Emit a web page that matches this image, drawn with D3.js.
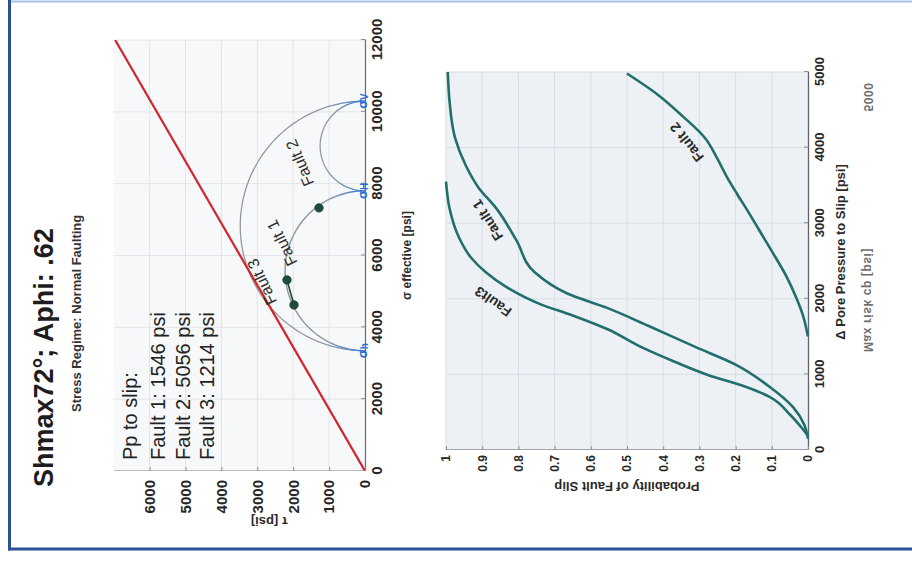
<!DOCTYPE html>
<html>
<head>
<meta charset="utf-8">
<script src="https://cdn.jsdelivr.net/npm/d3@7"></script>
<style>
  body { margin: 0; background: #ffffff; }
  svg { display: block; }
  text { font-family: "Liberation Sans", Arial, sans-serif; }
</style>
</head>
<body>
<svg id="chart" width="912" height="562"></svg>
<script>
// ---------------- DATA ----------------
const titleText = "Shmax72°; Aphi: .62";
const subtitleText = "Stress Regime: Normal Faulting";

// Mohr diagram
const sigmaTicks = [0, 2000, 4000, 6000, 8000, 10000, 12000];
const tauTicks = [0, 1000, 2000, 3000, 4000, 5000, 6000];
const principalStress = [3350, 7800, 10300];          // sigma_h, sigma_H, sigma_V (effective, psi)
const principalNames = ["h", "H", "V"];
const frictionCoef = 0.58;
const faultNames = ["Fault 1", "Fault 2", "Fault 3"];
const faultSigma = [5320, 7326, 4624];
const faultTau = [2173, 1281, 1978];
const faultLabelSigma = [6351, 8579, 5265];
const faultLabelTau = [2312, 1811, 2869];
const ppToSlip = [1546, 5056, 1214];

// Probability chart
const dpTicks = [0, 1000, 2000, 3000, 4000, 5000];
const probTicks = [0, 0.1, 0.2, 0.3, 0.4, 0.5, 0.6, 0.7, 0.8, 0.9, 1];
const fault1DP = [150, 330, 560, 850, 1130, 1360, 1640, 1880, 2070, 2350, 2770, 3190, 3470, 3760, 4130, 4600, 5000];
const fault1P  = [0, 0.01, 0.04, 0.11, 0.2, 0.31, 0.44, 0.555, 0.665, 0.755, 0.805, 0.86, 0.91, 0.945, 0.975, 0.99, 0.995];
const fault2DP = [1500, 1780, 2020, 2300, 2630, 2910, 3150, 3380, 3620, 3850, 4130, 4410, 4700, 4980];
const fault2P  = [0, 0.014, 0.033, 0.06, 0.1, 0.135, 0.165, 0.195, 0.225, 0.25, 0.285, 0.345, 0.415, 0.5];
const fault3DP = [190, 280, 470, 700, 850, 990, 1170, 1360, 1600, 1780, 1930, 2160, 2350, 2540, 2820, 3190, 3550];
const fault3P  = [0, 0.015, 0.05, 0.105, 0.18, 0.275, 0.37, 0.46, 0.555, 0.65, 0.74, 0.835, 0.89, 0.93, 0.965, 0.99, 1.0];
const curveLabels = ["Fault 1", "Fault 2", "Fault3"];
const curveLabelDP = [3040, 4070, 1960];
const curveLabelP = [0.885, 0.335, 0.87];

// ---------------- SETUP ----------------
const W0 = 562; // unrotated page width (image height)
const svg = d3.select("#chart");
const defs = svg.append("defs");

// page frame (image coordinates)
svg.append("line").attr("x1", 8).attr("x2", 912).attr("y1", 1.5).attr("y2", 1.5)
  .attr("stroke", "#aac2e4").attr("stroke-width", 2);
svg.append("line").attr("x1", 9.5).attr("x2", 9.5).attr("y1", 0).attr("y2", 550.5)
  .attr("stroke", "#2a5292").attr("stroke-width", 3);
svg.append("line").attr("x1", 8).attr("x2", 912).attr("y1", 549).attr("y2", 549)
  .attr("stroke", "#2a5292").attr("stroke-width", 3);

// everything else is drawn on the page turned a quarter turn
const g = svg.append("g").attr("transform", `translate(0,${W0}) rotate(-90)`);

// titles
g.append("text").attr("x", 75).attr("y", 53).attr("font-size", 27).attr("font-weight", "bold")
  .attr("fill", "#1d1d1d").text(titleText);
g.append("text").attr("x", 150).attr("y", 81).attr("font-size", 13).attr("font-weight", "bold")
  .attr("fill", "#333").text(subtitleText);

// ---------------- MOHR DIAGRAM ----------------
const xS = d3.scaleLinear().domain([0, 12000]).range([91, 522]);
const yS = d3.scaleLinear().domain([0, 7000]).range([365, 113.7]);

defs.append("clipPath").attr("id", "clipTop").append("rect")
  .attr("x", xS(0)).attr("y", yS(7000)).attr("width", xS(12000) - xS(0)).attr("height", yS(0) - yS(7000));
const grad = defs.append("linearGradient").attr("id", "arcGrad").attr("gradientUnits", "userSpaceOnUse")
  .attr("x1", 0).attr("x2", 0).attr("y1", yS(0)).attr("y2", yS(1100));
grad.append("stop").attr("offset", 0).attr("stop-color", "#3f7fd6");
grad.append("stop").attr("offset", 1).attr("stop-color", "#9299a2");

g.append("rect").attr("x", xS(0)).attr("y", yS(7000)).attr("width", xS(12000) - xS(0))
  .attr("height", yS(0) - yS(7000)).attr("fill", "#f7f8f9");
const gridT = g.append("g").attr("stroke", "#e1e4e8").attr("stroke-width", 1);
sigmaTicks.slice(1).forEach(v => gridT.append("line").attr("x1", xS(v)).attr("x2", xS(v)).attr("y1", yS(0)).attr("y2", yS(7000)));
tauTicks.slice(1).forEach(v => gridT.append("line").attr("x1", xS(0)).attr("x2", xS(12000)).attr("y1", yS(v)).attr("y2", yS(v)));

// axes
const fmtInt = d3.format("d");
const axT1 = g.append("g").attr("transform", `translate(0,${yS(0)})`)
  .call(d3.axisBottom(xS).tickValues(sigmaTicks).tickFormat(fmtInt).tickSizeInner(-4).tickSizeOuter(0).tickPadding(6));
const axT2 = g.append("g").attr("transform", `translate(${xS(0)},0)`)
  .call(d3.axisLeft(yS).tickValues(tauTicks).tickFormat(fmtInt).tickSizeInner(-4).tickSizeOuter(0).tickPadding(9));
axT1.select(".domain").attr("stroke", "#6d7278").attr("stroke-width", 1.3);
axT2.select(".domain").attr("stroke", "#b9bec4");
[axT1, axT2].forEach(a => {
  a.selectAll(".tick line").attr("stroke", "#8a8f95");
  a.selectAll("text").attr("font-size", 15).attr("font-weight", "bold").attr("fill", "#262626")
    .style("font-family", '"Liberation Sans", Arial, sans-serif');
});

g.append("text").attr("x", (xS(0) + xS(12000)) / 2).attr("y", 411).attr("text-anchor", "middle")
  .attr("font-size", 12).attr("font-weight", "bold").attr("fill", "#2a2a2a").text("σ effective [psi]");
g.append("text").attr("transform", `translate(45,${(yS(0) + yS(7000)) / 2 + 30}) rotate(-90)`)
  .attr("text-anchor", "middle").attr("font-size", 13).attr("font-weight", "bold").attr("fill", "#2a2a2a")
  .text("τ [psi]");

const plotT = g.append("g").attr("clip-path", "url(#clipTop)");
const lineT = d3.line().x(d => xS(d[0])).y(d => yS(d[1]));
const angles = d3.range(0, 181, 2).map(a => a * Math.PI / 180);
const mohrPairs = [[0, 2], [1, 2], [0, 1]];
const mohrWidths = [1.3, 1.3, 1.5];
mohrPairs.forEach(([i, j], k) => {
  const c = (principalStress[i] + principalStress[j]) / 2;
  const r = (principalStress[j] - principalStress[i]) / 2;
  plotT.append("path").attr("d", lineT(angles.map(t => [c + r * Math.cos(t), r * Math.sin(t)])))
    .attr("fill", "none").attr("stroke", "url(#arcGrad)").attr("stroke-width", mohrWidths[k]);
});

// failure line
plotT.append("path").attr("d", lineT([[0, 0], [12000, 12000 * frictionCoef]]))
  .attr("fill", "none").attr("stroke", "#d1262d").attr("stroke-width", 2.2);

// connection between fault 3 and fault 1 points
plotT.append("path").attr("d", lineT([[faultSigma[2], faultTau[2]], [faultSigma[0], faultTau[0]]]))
  .attr("stroke", "#1f4a3a").attr("stroke-width", 1.6);

// fault points
faultNames.forEach((n, i) => {
  plotT.append("circle").attr("cx", xS(faultSigma[i])).attr("cy", yS(faultTau[i])).attr("r", 4.2)
    .attr("fill", "#1e4d3b").attr("stroke", "#163a2c").attr("stroke-width", 0.8);
});
const topAngles = [-26, -23, -25];
faultNames.forEach((n, i) => {
  g.append("text").attr("transform", `translate(${xS(faultLabelSigma[i])},${yS(faultLabelTau[i])}) rotate(${topAngles[i]})`)
    .attr("text-anchor", "middle").attr("dominant-baseline", "central")
    .attr("font-size", 16).attr("fill", "#2c2c2c").text(n);
});

// principal stress markers
principalStress.forEach((s, i) => {
  const t = g.append("text").attr("x", xS(s)).attr("y", yS(0) + 2).attr("text-anchor", "middle")
    .attr("font-size", 13).attr("font-weight", "bold").attr("fill", "#2c6fd3");
  t.append("tspan").text("σ");
  t.append("tspan").attr("font-size", 10).attr("dy", 1).text(principalNames[i]);
});

// Pp to slip box
const boxLines = ["Pp to slip:"].concat(faultNames.map((n, i) => `${n}: ${ppToSlip[i]} psi`));
const boxBase = [137, 165, 190, 214];
boxLines.forEach((s, i) => {
  g.append("text").attr("x", 102).attr("y", boxBase[i]).attr("font-size", 20).attr("fill", "#222").text(s);
});

// ---------------- PROBABILITY CHART ----------------
const xB = d3.scaleLinear().domain([0, 5000]).range([112, 490]);
const yB = d3.scaleLinear().domain([0, 1]).range([808, 446]);

g.append("rect").attr("x", xB(0)).attr("y", yB(1)).attr("width", xB(5000) - xB(0))
  .attr("height", yB(0) - yB(1)).attr("fill", "#edf1f5");
const gridB = g.append("g").attr("stroke", "#d7dde5").attr("stroke-width", 1);
dpTicks.slice(1).forEach(v => gridB.append("line").attr("x1", xB(v)).attr("x2", xB(v)).attr("y1", yB(0)).attr("y2", yB(1)));
probTicks.slice(1).forEach(v => gridB.append("line").attr("x1", xB(0)).attr("x2", xB(5000)).attr("y1", yB(v)).attr("y2", yB(v)));

const axB1 = g.append("g").attr("transform", `translate(0,${yB(0)})`)
  .call(d3.axisBottom(xB).tickValues(dpTicks).tickFormat(fmtInt).tickSizeInner(-4).tickSizeOuter(0).tickPadding(7));
const axB2 = g.append("g").attr("transform", `translate(${xB(0)},0)`)
  .call(d3.axisLeft(yB).tickValues(probTicks).tickFormat(d => String(+d.toFixed(1)))
    .tickSizeInner(-4).tickSizeOuter(0).tickPadding(5));
axB1.select(".domain").attr("stroke", "#5f656b").attr("stroke-width", 1.3);
axB2.select(".domain").attr("stroke", "#9ea4ab");
axB1.selectAll("text").attr("font-size", 13);
axB2.selectAll("text").attr("font-size", 12);
[axB1, axB2].forEach(a => {
  a.selectAll(".tick line").attr("stroke", "#8a8f95");
  a.selectAll("text").attr("font-weight", "bold").attr("fill", "#262626")
    .style("font-family", '"Liberation Sans", Arial, sans-serif');
});

g.append("text").attr("x", 310).attr("y", 845).attr("text-anchor", "middle")
  .attr("font-size", 13).attr("font-weight", "bold").attr("fill", "#2a2a2a").text("Δ Pore Pressure to Slip [psi]");
g.append("text").attr("transform", `translate(80,${(yB(0) + yB(1)) / 2}) rotate(-90)`)
  .attr("text-anchor", "middle").attr("font-size", 13).attr("font-weight", "bold").attr("fill", "#2a2a2a")
  .text("Probability of Fault Slip");

const lineB = d3.line().x(d => xB(d[0])).y(d => yB(d[1])).curve(d3.curveMonotoneX);
[[fault1DP, fault1P], [fault2DP, fault2P], [fault3DP, fault3P]].forEach(([xs, ps]) => {
  g.append("path").attr("d", lineB(xs.map((x, i) => [x, ps[i]])))
    .attr("fill", "none").attr("stroke", "#216f6c").attr("stroke-width", 2.6)
    .attr("stroke-linejoin", "round");
});
const botAngles = [-32, -38, -55];
curveLabels.forEach((n, i) => {
  g.append("text").attr("transform", `translate(${xB(curveLabelDP[i])},${yB(curveLabelP[i])}) rotate(${botAngles[i]})`)
    .attr("text-anchor", "middle").attr("dominant-baseline", "central")
    .attr("font-size", 14).attr("font-weight", "bold").attr("fill", "#2a2a2a").text(n);
});

// faint show-through text from the back of the page (mirrored)
[["Max risk cp [psi]", 262], ["5000", 465]].forEach(([s, x]) => {
  g.append("text").attr("transform", `translate(${x},864) scale(1,-1)`).attr("text-anchor", "middle")
    .attr("font-size", 12).attr("font-weight", "bold").attr("letter-spacing", 0.6)
    .attr("fill", "#6f6f6f").text(s);
});
</script>
</body>
</html>
